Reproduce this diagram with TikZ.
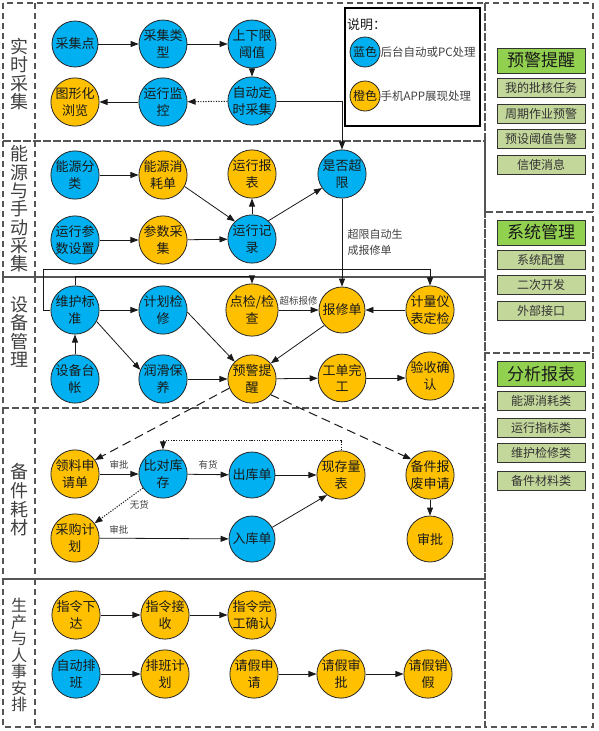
\documentclass[tikz,border=0pt]{standalone}
\usepackage{fontspec}
\setmainfont{Noto Sans CJK SC}
\usetikzlibrary{arrows.meta,calc}
\definecolor{cblue}{HTML}{00B0F0}
\definecolor{corange}{HTML}{FFC000}
\definecolor{hgreen}{HTML}{92D050}
\definecolor{igreen}{HTML}{C4D79B}
\definecolor{bordergray}{HTML}{555555}
\definecolor{txt}{HTML}{1A1A1A}
\definecolor{lbl}{HTML}{404040}
\tikzset{
  circ/.style={circle,draw=black!85,line width=0.8pt,minimum size=46pt,inner sep=0pt,align=center,
    font=\fontsize{13}{16.5}\selectfont,text=txt},
  bnode/.style={circ,fill=cblue},
  onode/.style={circ,fill=corange},
  arr/.style={draw=black!90,line width=0.8pt,-{Triangle[length=8pt,width=6pt]}},
  dotarr/.style={arr,dash pattern=on 1.2pt off 1.4pt,line width=1pt},
  dasharr/.style={arr,dash pattern=on 9pt off 5pt,line width=1pt},
  frame/.style={draw=bordergray,line width=1.2pt,dash pattern=on 6pt off 4pt},
  rowlbl/.style={align=center,text=lbl,font=\fontsize{18}{18.6}\selectfont},
  elbl/.style={text=black!75,font=\fontsize{9.5}{11}\selectfont,inner sep=1pt},
  hbox/.style={draw=black!80,line width=1pt,fill=hgreen,minimum width=88pt,minimum height=25pt,inner sep=0pt,
    font=\fontsize{17}{18}\selectfont,text=txt},
  ibox/.style={draw=black!80,line width=1pt,fill=igreen,minimum width=88pt,minimum height=19pt,inner sep=0pt,
    font=\fontsize{12}{13}\selectfont,text=black!80},
}
\begin{document}
\begin{tikzpicture}[x=1pt,y=-1pt]
\useasboundingbox (0,0) rectangle (598,731);
% frames
\draw[frame] (3,3) rectangle (485,141);
\draw[frame] (3,141) rectangle (485,277);
\draw[frame] (3,277) rectangle (485,408);
\draw[frame] (3,408) rectangle (485,579);
\draw[frame] (3,579) rectangle (485,727);
\foreach \a/\b in {3/141,141/277,277/408,408/579,579/727}
  \draw[frame] (35,\a) -- (35,\b);
\draw[frame] (485,3) rectangle (593,212);
\draw[frame] (485,212) rectangle (593,353);
\draw[frame] (485,353) rectangle (593,727);
% row labels
\node[rowlbl] (l1) at (19,74) {实\\时\\采\\集};
\node[rowlbl,font=\fontsize{18}{18.3}\selectfont] (l2) at (19,209) {能\\源\\与\\手\\动\\采\\集};
\node[rowlbl] (l3) at (19,332) {设\\备\\管\\理};
\node[rowlbl] (l4) at (19,500) {备\\件\\耗\\材};
\node[rowlbl,font=\fontsize{16}{16.5}\selectfont] (l5) at (19,655) {生\\产\\与\\人\\事\\安\\排};
% legend
\draw[line width=1.4pt] (345,8) rectangle (480,126);
\node[anchor=west,inner sep=0pt,text=txt,font=\fontsize{13}{14}\selectfont] (sm) at (347,25) {说明：};
\node[circle,draw=black!85,line width=0.8pt,fill=cblue,minimum size=30pt,inner sep=0pt,font=\fontsize{12}{13}\selectfont,text=txt] (lgb) at (365,52) {蓝色};
\node[anchor=west,inner sep=0pt,text=black!75,font=\fontsize{11.5}{13}\selectfont] (lgbt) at (lgb.east) {后台自动或PC处理};
\node[circle,draw=black!85,line width=0.8pt,fill=corange,minimum size=30pt,inner sep=0pt,font=\fontsize{12}{13}\selectfont,text=txt] (lgo) at (365,96) {橙色};
\node[anchor=west,inner sep=0pt,text=black!75,font=\fontsize{11.5}{13}\selectfont] (lgot) at (lgo.east) {手机APP展现处理};
% right panel
\node[hbox] (h1) at (541,60.5) {预警提醒};
\node[ibox] (i11) at (541,88) {我的批核任务};
\node[ibox] (i12) at (541,113.5) {周期作业预警};
\node[ibox] (i13) at (541,139) {预设阈值告警};
\node[ibox] (i14) at (541,164.5) {信使消息};
\node[hbox] (h2) at (541,232.5) {系统管理};
\node[ibox] (i21) at (541,259.5) {系统配置};
\node[ibox] (i22) at (541,285) {二次开发};
\node[ibox] (i23) at (541,310.5) {外部接口};
\node[hbox] (h3) at (541,374) {分析报表};
\node[ibox] (i31) at (541,401) {能源消耗类};
\node[ibox] (i32) at (541,427.5) {运行指标类};
\node[ibox] (i33) at (541,453) {维护检修类};
\node[ibox] (i34) at (541,480.5) {备件材料类};
% row 1
\node[bnode] (cjd) at (75,44) {采集点};
\node[bnode] (cjlx) at (163,44) {采集类\\型};
\node[bnode] (sxx) at (252,44) {上下限\\阈值};
\node[bnode] (zdds) at (252,101) {自动定\\时采集};
\node[bnode] (yxjk) at (163,102) {运行监\\控};
\node[onode] (txh) at (75,102) {图形化\\浏览};
% row 2
\node[bnode] (nyfl) at (75,175) {能源分\\类};
\node[onode] (nyxh) at (163,175) {能源消\\耗单};
\node[onode] (yxbb) at (252,174) {运行报\\表};
\node[bnode] (sfcx) at (342,174) {是否超\\限};
\node[bnode] (yxcs) at (75,240) {运行参\\数设置};
\node[onode] (cscj) at (163,240) {参数采\\集};
\node[bnode] (yxjl) at (252,239) {运行记\\录};
% row 3
\node[bnode] (whbz) at (75,310) {维护标\\准};
\node[bnode] (jhjx) at (163,310) {计划检\\修};
\node[onode] (djjc) at (252,310) {点检/检\\查};
\node[onode] (bxd) at (342,310) {报修单};
\node[onode] (jlyb) at (430,310) {计量仪\\表定检};
\node[bnode] (sbtz) at (75,379) {设备台\\帐};
\node[bnode] (rhby) at (163,379) {润滑保\\养};
\node[onode] (yjtx) at (252,379) {预警提\\醒};
\node[onode] (gdwg) at (342,378) {工单完\\工};
\node[onode] (ysqr) at (430,376) {验收确\\认};
% row 4
\node[onode] (llsq) at (75,474) {领料申\\请单};
\node[bnode] (bdkc) at (163,474) {比对库\\存};
\node[bnode] (ckd) at (252,475) {出库单};
\node[onode] (xclb) at (341,475) {现存量\\表};
\node[onode] (bjbf) at (430,475) {备件报\\废申请};
\node[onode] (cgjh) at (75,538) {采购计\\划};
\node[bnode] (rkd) at (252,539) {入库单};
\node[onode] (sp) at (430,539) {审批};
% row 5
\node[onode] (zlxd) at (76,615) {指令下\\达};
\node[onode] (zljs) at (165,615) {指令接\\收};
\node[onode] (zlwc) at (252,615) {指令完\\工确认};
\node[bnode] (zdpb) at (76,674) {自动排\\班};
\node[onode] (pbjh) at (165,674) {排班计\\划};
\node[onode] (qjsq) at (254,674) {请假申\\请};
\node[onode] (qjsp) at (341,674) {请假审\\批};
\node[onode] (qjxj) at (428,674) {请假销\\假};
% coordinates
\coordinate (c1) at (43,269);
\coordinate (c2) at (252,276);
\coordinate (c3) at (250,440);
% edges row 1
\draw[arr] (cjd) -- (cjlx);
\draw[arr] (cjlx) -- (sxx);
\draw[arr] (sxx) -- (zdds);
\draw[dotarr] (zdds) -- (yxjk);
\draw[arr] (yxjk) -- (txh);
\draw[arr] (zdds.east) -| (sfcx.north);
% row 2
\draw[arr] (nyfl) -- (nyxh);
\draw[arr] (nyxh.-28) -- (yxjl.134);
\draw[arr] (yxcs) -- (cscj);
\draw[arr] (cscj) -- (yxjl);
\draw[arr] (yxjl) -- (yxbb);
\draw[arr] (yxjl.48) -- (sfcx.215);
\draw[arr] (sfcx) -- (bxd) node[pos=0.5,right=2pt,align=left,text=black!75,font=\fontsize{11}{16}\selectfont] (lb1) {超限自动生\\成报修单};
% row 3
\draw[arr] (whbz) -- (jhjx);
\draw[arr] (whbz.-28) -- (rhby.158);
\draw[arr] (sbtz) -- (whbz);
\draw[arr] (jhjx.-5) -- (yjtx.135);
\draw[arr] (rhby) -- (yjtx);
\draw[arr] (djjc) -- (bxd) node[elbl,midway,above=3pt] (lb2) {超标报修};
\draw[arr] (jlyb) -- (bxd);
\draw[arr] (bxd.221) -- (yjtx.40);
\draw[arr] (yjtx) -- (gdwg);
\draw[arr] (gdwg.east) -- (ysqr.west |- gdwg.east);
\draw[arr] (whbz.north) |- (c2) -- (djjc.north);
\draw[arr] (whbz.west) -| (c1) -| (jlyb.north);
% row 3 -> 4
\draw[dasharr] (yjtx.202) -- (llsq.35);
\draw[dasharr] (yjtx.-40) -- (bjbf.140);
% row 4
\draw[arr] (llsq) -- (bdkc) node[elbl,midway,above=3pt] (lb3) {审批};
\draw[arr] (bdkc) -- (ckd) node[elbl,midway,above=4pt] (lb4) {有货};
\draw[dotarr] (bdkc.215) -- (cgjh.37) node[elbl,pos=0.3,below right=0pt] (lb5) {无货};
\draw[arr] (cgjh) -- (rkd) node[elbl,pos=0.15,above=3pt] (lb6) {审批};
\draw[arr] (ckd) -- (xclb);
\draw[arr] (rkd.30) -- (xclb.235);
\draw[dotarr] (xclb.north) |- (c3) -| (bdkc.north);
\draw[arr] (bjbf) -- (sp);
% row 5
\draw[arr] (zlxd) -- (zljs);
\draw[arr] (zljs) -- (zlwc);
\draw[arr] (zdpb) -- (pbjh);
\draw[arr] (qjsq) -- (qjsp);
\draw[arr] (qjsp) -- (qjxj);
\end{tikzpicture}
\end{document}
